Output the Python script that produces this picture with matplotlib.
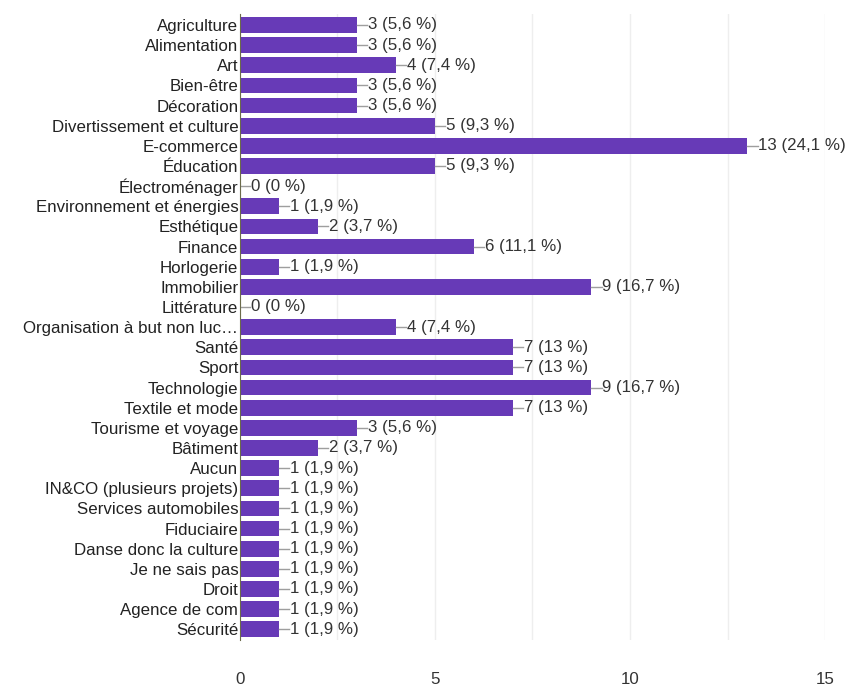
import matplotlib

matplotlib.use("Agg")
import matplotlib.pyplot as plt
from matplotlib.ticker import MultipleLocator

plt.rcParams["font.family"] = ["Liberation Sans", "DejaVu Sans"]

categories = [
    "Agriculture", "Alimentation", "Art", "Bien-être", "Décoration",
    "Divertissement et culture", "E-commerce", "Éducation", "Électroménager",
    "Environnement et énergies", "Esthétique", "Finance", "Horlogerie",
    "Immobilier", "Littérature", "Organisation à but non luc…", "Santé",
    "Sport", "Technologie", "Textile et mode", "Tourisme et voyage",
    "Bâtiment", "Aucun", "IN&CO (plusieurs projets)", "Services automobiles",
    "Fiduciaire", "Danse donc la culture", "Je ne sais pas", "Droit",
    "Agence de com", "Sécurité",
]
counts = [3, 3, 4, 3, 3, 5, 13, 5, 0, 1, 2, 6, 1, 9, 0, 4, 7, 7, 9, 7, 3, 2,
          1, 1, 1, 1, 1, 1, 1, 1, 1]
percents = ["5,6", "5,6", "7,4", "5,6", "5,6", "9,3", "24,1", "9,3", "0", "1,9",
            "3,7", "11,1", "1,9", "16,7", "0", "7,4", "13", "13", "16,7", "13",
            "5,6", "3,7", "1,9", "1,9", "1,9", "1,9", "1,9", "1,9", "1,9", "1,9",
            "1,9"]
x_ticks = [0, 5, 10, 15]

FS = 12.2

fig = plt.figure(figsize=(8.56, 6.93), dpi=100)
ax = fig.add_axes([0.280, 0.076, 0.684, 0.904])

ypos = list(range(len(categories)))
ax.barh(ypos, counts, height=0.78, color="#673ab7", zorder=3)

# petit trait puis valeur au bout de chaque barre
for y, c, p in zip(ypos, counts, percents):
    ax.plot([c, c + 0.27], [y, y], color="#9e9e9e", lw=1, zorder=3)
    ax.text(c + 0.29, y, f"{c} ({p} %)", va="center", ha="left",
            fontsize=FS, color="#333333")

ax.set_ylim(len(categories) - 0.45, -0.55)
ax.set_xlim(0, 15)
ax.set_yticks(ypos)
ax.set_yticklabels(categories, fontsize=FS, color="#222222")
ax.set_xticks(x_ticks)
ax.set_xticklabels([str(t) for t in x_ticks], fontsize=FS, color="#333333")
ax.xaxis.set_minor_locator(MultipleLocator(2.5))
ax.tick_params(axis="both", which="both", length=0)
ax.tick_params(axis="x", pad=23)
ax.tick_params(axis="y", pad=1)
ax.grid(axis="x", which="both", color="#eeeeee", lw=1, zorder=0)

for side in ("top", "right", "bottom"):
    ax.spines[side].set_visible(False)
ax.spines["left"].set_color("#6b6b4b")
ax.spines["left"].set_zorder(4)

fig.savefig("out.png", dpi=100)
